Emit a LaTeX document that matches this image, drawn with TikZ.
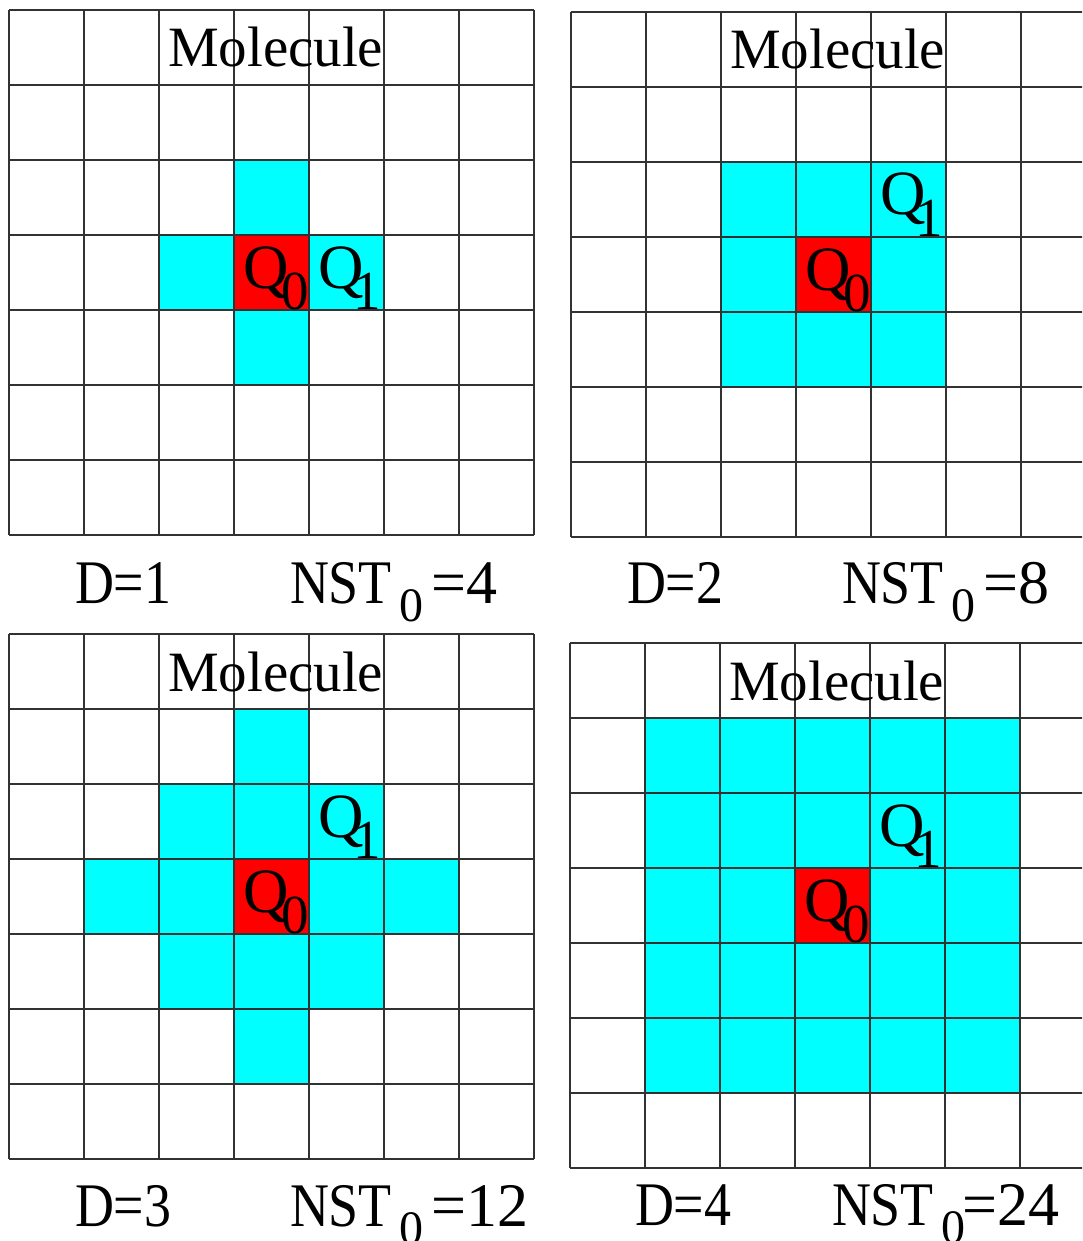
\documentclass[tikz,border=0pt]{standalone}
\usepackage{fontspec}
\setmainfont{Liberation Serif}
\usepackage{graphicx}
\definecolor{cellcyan}{RGB}{0,255,255}
\definecolor{cellred}{RGB}{255,0,0}
\definecolor{gridgray}{RGB}{50,50,50}
\newcommand\molfont{\fontsize{57}{57}\selectfont}
\newcommand\qfont{\fontsize{63}{63}\selectfont}
\newcommand\qsubfont{\fontsize{55}{55}\selectfont}
\newcommand\capfont{\fontsize{62}{62}\selectfont}
\newcommand\capsubfont{\fontsize{48}{48}\selectfont}
\newcommand\cond[1]{\scalebox{0.87}[1]{#1}}
\newcommand\latticeat[2]{%
  \foreach \k in {0,...,7} {
    \draw[gridline] ({#1+75*\k},#2) -- ++(0,525);
    \draw[gridline] (#1,{#2+75*\k}) -- ++(525,0);
  }}
\newcommand\cellat[5]{\fill[#1] ({#2+75*#4},{#3+75*#5}) rectangle ++(75,75);}
\newcommand\qzero[4]{\node[lab, anchor=base west, font=\qfont] (#1) at ({#2+75*#4+9},{#3+75*#4+53}) {Q\kern-7pt\raisebox{-21.5pt}{\qsubfont 0}};}
\newcommand\qone[5]{\node[lab, anchor=base west, font=\qfont] (#1) at ({#2+75*#4+9},{#3+75*#5+53}) {Q\kern-10pt\raisebox{-21.5pt}{\qsubfont 1}};}
\begin{document}
\begin{tikzpicture}[x=1pt,y=-1pt,
  gridline/.style={draw=gridgray, line width=1.2pt},
  lab/.style={inner sep=0pt, outer sep=0pt, text=black}]
\clip (0,0) rectangle (1082,1241);
\fill[white] (0,0) rectangle (1082,1241);

% ---------- top left: D=1 ----------
\foreach \c/\r in {3/2,2/3,4/3,3/4} {\cellat{cellcyan}{9}{10}{\c}{\r}}
\cellat{cellred}{9}{10}{3}{3}
\latticeat{9}{10}
\node[lab, anchor=base west, font=\molfont] (molA) at (168,67) {Molecule};
\qzero{qzA}{9}{10}{3}
\qone{qoA}{9}{10}{4}{3}
\node[lab, anchor=base west, font=\capfont] (dA) at (75,603) {\cond{D=1}};
\node[lab, anchor=base west, font=\capfont] (nA) at (290,603) {\cond{NST}\hspace{8pt}\raisebox{-18pt}{\capsubfont 0}\hspace{7.5pt}=4};

% ---------- top right: D=2 ----------
\foreach \c/\r in {2/2,3/2,4/2,2/3,4/3,2/4,3/4,4/4} {\cellat{cellcyan}{571}{12}{\c}{\r}}
\cellat{cellred}{571}{12}{3}{3}
\latticeat{571}{12}
\node[lab, anchor=base west, font=\molfont] (molB) at (730,69) {Molecule};
\qzero{qzB}{571}{12}{3}
\qone{qoB}{571}{12}{4}{2}
\node[lab, anchor=base west, font=\capfont] (dB) at (627,603) {\cond{D=2}};
\node[lab, anchor=base west, font=\capfont] (nB) at (842,603) {\cond{NST}\hspace{8pt}\raisebox{-18pt}{\capsubfont 0}\hspace{7.5pt}=8};

% ---------- bottom left: D=3 ----------
\foreach \c/\r in {3/1,2/2,3/2,4/2,1/3,2/3,4/3,5/3,2/4,3/4,4/4,3/5} {\cellat{cellcyan}{9}{634}{\c}{\r}}
\cellat{cellred}{9}{634}{3}{3}
\latticeat{9}{634}
\node[lab, anchor=base west, font=\molfont] (molC) at (168,691) {Molecule};
\qzero{qzC}{9}{634}{3}
\qone{qoC}{9}{634}{4}{2}
\node[lab, anchor=base west, font=\capfont] (dC) at (75,1226) {\cond{D=3}};
\node[lab, anchor=base west, font=\capfont] (nC) at (290,1226) {\cond{NST}\hspace{8pt}\raisebox{-18pt}{\capsubfont 0}\hspace{7.5pt}=12};

% ---------- bottom right: D=4 ----------
\foreach \c in {1,...,5} {\foreach \r in {1,...,5} {\cellat{cellcyan}{570}{643}{\c}{\r}}}
\cellat{cellred}{570}{643}{3}{3}
\latticeat{570}{643}
\node[lab, anchor=base west, font=\molfont] (molD) at (729,700) {Molecule};
\qzero{qzD}{570}{643}{3}
\qone{qoD}{570}{643}{4}{2}
\node[lab, anchor=base west, font=\capfont] (dD) at (635,1225) {\cond{D=4}};
\node[lab, anchor=base west, font=\capfont] (nD) at (832,1225) {\cond{NST}\hspace{8pt}\raisebox{-18pt}{\capsubfont 0}\hspace{-3pt}=24};
\end{tikzpicture}
\end{document}
